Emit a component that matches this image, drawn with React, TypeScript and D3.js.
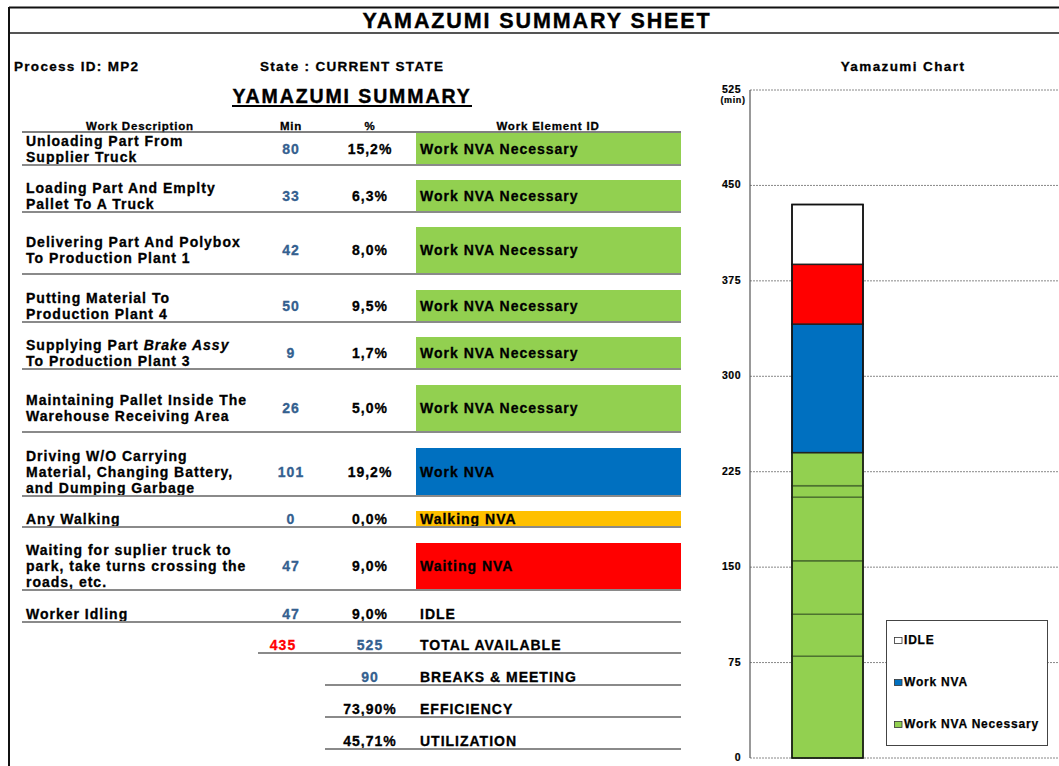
import React from "react";
import * as d3 from "d3";

// ---------- DATA ----------
const descriptions: string[][] = [
  ["Unloading Part From", "Supplier Truck"],
  ["Loading Part And Emplty", "Pallet To A Truck"],
  ["Delivering Part And Polybox", "To Production Plant 1"],
  ["Putting Material To", "Production Plant 4"],
  ["Supplying Part |Brake Assy", "To Production Plant 3"],
  ["Maintaining Pallet Inside The", "Warehouse Receiving Area"],
  ["Driving W/O Carrying", "Material, Changing Battery,", "and Dumping Garbage"],
  ["Any Walking"],
  ["Waiting for suplier truck to", "park, take turns crossing the", "roads, etc."],
  ["Worker Idling"],
];
const minutes: number[] = [80, 33, 42, 50, 9, 26, 101, 0, 47, 47];
const percents: string[] = ["15,2%", "6,3%", "8,0%", "9,5%", "1,7%", "5,0%", "19,2%", "0,0%", "9,0%", "9,0%"];
const elementIds: string[] = [
  "Work NVA Necessary", "Work NVA Necessary", "Work NVA Necessary", "Work NVA Necessary",
  "Work NVA Necessary", "Work NVA Necessary", "Work NVA", "Walking NVA", "Waiting NVA", "IDLE",
];
const categoryColors: Record<string, string | null> = {
  "Work NVA Necessary": "#92D050",
  "Work NVA": "#0070C0",
  "Walking NVA": "#FFC000",
  "Waiting NVA": "#FF0000",
  IDLE: null,
};
const summaryValues: string[] = ["525", "90", "73,90%", "45,71%"];
const summaryLabels: string[] = ["TOTAL AVAILABLE", "BREAKS & MEETING", "EFFICIENCY", "UTILIZATION"];
const totalAvailable = 525;
const yTicks: number[] = [0, 75, 150, 225, 300, 375, 450, 525];
const legendItems: string[] = ["IDLE", "Work NVA", "Work NVA Necessary"];

// ---------- LAYOUT ----------
const W = 1059;
const H = 766;
const FONT = "'Liberation Sans', Arial, sans-serif";
const headerLineY = 132;
const rowSlots = [33, 47, 62, 48, 47, 63, 64, 31, 63, 32];
const cellHeights = [31, 31, 46, 31, 31, 46, 47, 15, 46, 15];
const lineGap = 16;
const numColor = "#34608f";
const ruleColor = "#8a8a8a";

const T = (p: any) => {
  const { children, size = 14, weight = "bold", ls = 1, anchor = "start", fill = "#000", sw = 0.3, ...rest } = p;
  return (
    <text
      fontFamily={FONT}
      fontSize={size}
      fontWeight={weight}
      letterSpacing={ls}
      textAnchor={anchor}
      dominantBaseline="central"
      fill={fill}
      stroke={fill}
      strokeWidth={sw}
      {...rest}
    >
      {children}
    </text>
  );
};

function renderDesc(line: string) {
  if (line.includes("|")) {
    const [a, b] = line.split("|");
    return (
      <>
        <tspan>{a}</tspan>
        <tspan fontStyle="italic">{b}</tspan>
      </>
    );
  }
  return line;
}

export default function App() {
  let acc = headerLineY;
  const bottoms = rowSlots.map((s) => (acc += s));

  const y = d3.scaleLinear().domain([0, totalAvailable]).range([758, 90]);
  const axisX = 750;
  const barX0 = 792;
  const barX1 = 863;
  let cum = 0;
  const segs = minutes.map((m, i) => {
    const s = { y0: cum, y1: cum + m, cat: elementIds[i] };
    cum += m;
    return s;
  });
  const total = d3.sum(minutes);

  return (
    <svg width={W} height={H} style={{ position: "absolute", left: 0, top: 0, background: "#fff" }}>
      <rect x={0} y={0} width={W} height={H} fill="#fff" />
      {/* frame */}
      <line x1={9} x2={W} y1={7.5} y2={7.5} stroke="#111" strokeWidth={2} />
      <line x1={9} x2={W} y1={33} y2={33} stroke="#555" strokeWidth={2} />
      <line x1={9} x2={9} y1={7} y2={H} stroke="#111" strokeWidth={2} />
      <T x={537} y={20.5} size={21.5} ls={1.9} anchor="middle" sw={0.4}>YAMAZUMI SUMMARY SHEET</T>

      <T x={14} y={66} size={13.5} ls={1.3}>Process ID: MP2</T>
      <T x={260} y={66} size={13.5} ls={1.3}>State : CURRENT STATE</T>
      <T x={903} y={66} size={13.5} ls={1.4} anchor="middle">Yamazumi Chart</T>

      <T x={352} y={96} size={19.5} ls={1.9} anchor="middle" sw={0.4}>YAMAZUMI SUMMARY</T>
      <line x1={232} x2={472} y1={106} y2={106} stroke="#000" strokeWidth={2} />

      {/* header */}
      <T x={140} y={126} size={11.5} ls={0.8} anchor="middle">Work Description</T>
      <T x={291} y={126} size={11.5} ls={0.8} anchor="middle">Min</T>
      <T x={370} y={126} size={11.5} ls={0.8} anchor="middle">%</T>
      <T x={548} y={126} size={11.5} ls={0.8} anchor="middle">Work Element ID</T>
      <line x1={22} x2={681} y1={headerLineY} y2={headerLineY} stroke="#555" strokeWidth={1.5} />

      {/* rows */}
      {descriptions.map((lines, i) => {
        const bottom = bottoms[i];
        const h = cellHeights[i];
        const cy = bottom - 1 - h / 2;
        const color = categoryColors[elementIds[i]];
        return (
          <g key={i}>
            {color && <rect x={416} y={bottom - 1 - h} width={265} height={h} fill={color} />}
            {lines.map((ln, j) => (
              <T key={j} x={26} y={cy + (j - (lines.length - 1) / 2) * lineGap}>
                {renderDesc(ln)}
              </T>
            ))}
            <T x={291} y={cy} anchor="middle" fill={numColor}>{minutes[i]}</T>
            <T x={370} y={cy} anchor="middle">{percents[i]}</T>
            <T x={420} y={cy}>{elementIds[i]}</T>
            <line x1={22} x2={681} y1={bottom} y2={bottom} stroke={ruleColor} strokeWidth={2} />
          </g>
        );
      })}

      {/* summary */}
      {summaryLabels.map((lab, i) => {
        const cy = 645 + i * 32;
        return (
          <g key={lab}>
            {i === 0 && <T x={283} y={cy} anchor="middle" fill="#ff0000">{total}</T>}
            <T x={370} y={cy} anchor="middle" fill={i < 2 ? numColor : "#000"}>{summaryValues[i]}</T>
            <T x={420} y={cy}>{lab}</T>
            <line x1={i === 0 ? 258 : 325} x2={681} y1={cy + 8} y2={cy + 8} stroke={ruleColor} strokeWidth={2} />
          </g>
        );
      })}

      {/* chart grid */}
      {yTicks.map((t) => (
        <g key={t}>
          <line x1={axisX} x2={W} y1={y(t)} y2={y(t)} stroke="#888" strokeWidth={1} strokeDasharray="2,1" />
          <T x={741} y={y(t) - 1} size={10.5} ls={0.5} anchor="end" sw={0.2}>{t}</T>
        </g>
      ))}
      <T x={733} y={100} size={9} ls={0.6} anchor="middle" sw={0.2}>(min)</T>
      <line x1={axisX} x2={axisX} y1={y(525)} y2={y(0)} stroke="#555" strokeWidth={1.2} />

      {/* stacked bar */}
      {segs.map((s, i) => {
        const color = categoryColors[s.cat];
        return (
          <rect
            key={i}
            x={barX0}
            width={barX1 - barX0}
            y={y(s.y1)}
            height={y(s.y0) - y(s.y1)}
            fill={color || "#fff"}
            stroke={s.cat === "Work NVA Necessary" ? "#4e7330" : "#222"}
            strokeWidth={1.5}
          />
        );
      })}
      <rect x={barX0} width={barX1 - barX0} y={y(total)} height={y(0) - y(total)} fill="none" stroke="#111" strokeWidth={1.5} />

      {/* legend */}
      <rect x={886.5} y={620.5} width={161} height={125} fill="#fff" stroke="#444" strokeWidth={1} />
      {legendItems.map((it, i) => {
        const cy = 640 + i * 42;
        const c = categoryColors[it];
        return (
          <g key={it}>
            <rect x={894.5} y={cy - 2.5} width={7.5} height={6} fill={c || "#fff"} stroke="#333" strokeWidth={0.8} />
            <T x={904} y={cy} size={12} ls={0.8} sw={0.25}>{it}</T>
          </g>
        );
      })}
    </svg>
  );
}
